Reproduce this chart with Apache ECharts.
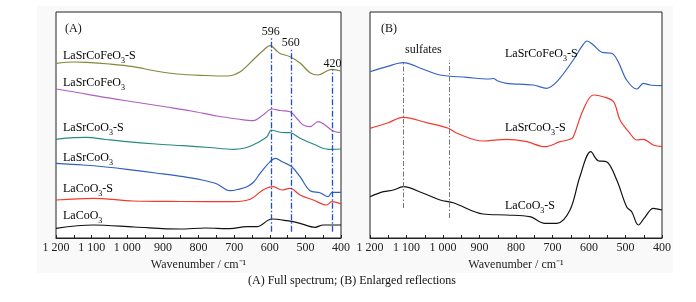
<!DOCTYPE html>
<html><head><meta charset="utf-8">
<script src="https://cdn.jsdelivr.net/npm/echarts@6/dist/echarts.min.js"></script>
<style>html,body{margin:0;padding:0;background:#fff}#c{width:696px;height:302px}</style>
</head><body><div id="c"></div>
<script>
// ---- Data (wavenumber cm-1, relative intensity a.u.) ----
// Panel A
const A_LaSrCoFeO3_S = [[1200,174.7],[1150,176],[1114,175.7],[1050,174],[983,171.3],[920,167],[861,164],[780,162.5],[720,162],[683,166.3],[647,178],[620,187],[599,192.3],[580,187],[571,184.5],[543,181.3],[515,175],[487,165.3],[464,163],[440,167],[426,168.7],[400,167]];
const A_LaSrCoFeO3 = [[1200,149],[1140,145.5],[1076,141.3],[980,136],[889,131],[820,127],[748,122],[690,119],[647,117.3],[619,123],[594,129],[570,127.5],[543,126.3],[520,118],[506,113],[487,111.3],[464,116.3],[445,113],[422,107],[400,105.3]];
const A_LaSrCoO3_S = [[1200,98.7],[1150,100.3],[1114,100.7],[1060,98.5],[1001,96.3],[920,94],[843,92.3],[770,90.5],[702,88.7],[670,90],[647,93],[608,101.3],[596,108],[585,107],[565,105.5],[543,105.3],[515,99.7],[478,94],[436,88.7],[400,89]];
const A_LaSrCoO3 = [[1200,74.7],[1124,73],[1060,71],[1001,68.7],[920,65],[843,61.3],[790,58],[748,54],[712,47.3],[690,48.5],[664,51.3],[645,56],[627,64.7],[599,76.3],[585,79.7],[562,75.7],[538,71.3],[515,61.3],[487,47.3],[459,45.3],[436,41.3],[425,45.7],[400,45.7]];
const A_LaCoO3_S = [[1200,38],[1095,39.7],[983,37],[850,36.5],[702,36.3],[655,38.7],[619,48],[590,51.3],[566,48],[543,49.7],[515,43],[478,38],[440,33],[426,36.3],[400,34]];
const A_LaCoO3 = [[1200,9.7],[1095,13],[980,11],[852,9],[780,10],[712,9.3],[664,11.3],[636,11.3],[594,19],[552,17.3],[515,14.7],[473,10.7],[450,13],[400,13]];
// Panel B
const B_LaSrCoFeO3_S = [[1200,166.3],[1154,171.3],[1109,175.3],[1054,168.7],[1008,163],[935,160.7],[875,159],[862,159.5],[850,157],[826,154.7],[753,153],[716,149.7],[688,156.3],[643,178],[620,191.3],[605,197],[588,193],[565,185.7],[538,184.7],[520,176.3],[497,158],[469,149],[451,154.7],[433,153],[400,152.3]];
const B_LaSrCoO3_S = [[1200,109.7],[1154,114.7],[1109,120.7],[1045,115.3],[985,109.7],[962,104.7],[890,97],[826,98.7],[771,96.3],[721,91.3],[679,96.3],[652,98.7],[643,101.3],[616,128],[588,143],[561,141.3],[533,136.3],[515,118],[488,104.7],[469,98],[451,98.7],[424,93],[400,91.3]];
const B_LaCoO3_S = [[1200,41.3],[1163,46.3],[1136,48],[1109,51.3],[1054,44.7],[1008,38],[972,35.3],[890,24],[826,23],[762,21.3],[721,14.7],[688,14.7],[652,28],[625,61.3],[595,86.3],[575,77.3],[552,76.3],[524,58],[497,31.3],[483,26.3],[465,13],[447,20.7],[424,29.7],[400,28]];
// Reference lines
const A_peakPositions = [597, 541, 424];
const A_peakLabels = ['596', '560', '420'];
const A_peakTops = [201.3, 189.7, 168.7];
const B_sulfatePositions = [1109, 983];
const B_sulfateRanges = [[30, 175.3], [20, 178]];
const xTicks = [1200, 1100, 1000, 900, 800, 700, 600, 500, 400];

const FONT = '"Liberation Serif","Times New Roman",serif';
const chart = echarts.init(document.getElementById('c'), null, {renderer: 'canvas'});

function fmt(v){ return v >= 1000 ? String(v).replace(/(\d)(\d{3})$/, '$1 $2') : String(v); }
function xAxis(gi){
  return {type:'value', gridIndex:gi, inverse:true, min:400, max:1200, interval:100,
    name:'Wavenumber / cm\u207B\u00B9', nameLocation:'middle', nameGap:21,
    nameTextStyle:{fontFamily:FONT, fontSize:12, color:'#222'},
    axisLine:{show:true, lineStyle:{color:'#222', width:1}},
    axisTick:{show:true, inside:true, length:3, lineStyle:{color:'#222'}},
    minorTick:{show:true, splitNumber:2, length:3, lineStyle:{color:'#222'}},
    splitLine:{show:false}, minorSplitLine:{show:false},
    axisLabel:{fontFamily:FONT, fontSize:12, color:'#222', margin:4, formatter:fmt}};
}
function yAxis(gi){
  return {type:'value', gridIndex:gi, min:0, max:226, show:true,
    axisLine:{show:false}, axisTick:{show:false}, axisLabel:{show:false}, splitLine:{show:false}};
}
function line(data, color, xi){
  return {type:'line', xAxisIndex:xi, yAxisIndex:xi, data:data, smooth:0.35, symbol:'none',
    lineStyle:{color:color, width:1.2}, silent:true, z:3};
}
const rich = {
  n:{fontFamily:FONT, fontSize:12, color:'#111', lineHeight:14, verticalAlign:'bottom'},
  s:{fontFamily:FONT, fontSize:8, color:'#111', lineHeight:14, verticalAlign:'bottom', padding:[0,0,-3,0]}
};
function label(x, y, main, sub, tail){
  let t = '{n|' + main + '}';
  if (sub) t += '{s|' + sub + '}';
  if (tail) t += '{n|' + tail + '}';
  return {type:'text', x:x, y:y, z:10, style:{text:t, rich:rich, verticalAlign:'middle', align:'left'}};
}
function plain(x, y, text, align, size){
  return {type:'text', x:x, y:y, z:10, style:{text:text, font:(size||12)+'px '+FONT, fill:'#111', align:align||'left', verticalAlign:'middle'}};
}

const peakSeries = {type:'line', xAxisIndex:0, yAxisIndex:0, data:[], symbol:'none',
  markLine:{silent:true, symbol:'none', animation:false,
    lineStyle:{color:'#1f4fd1', width:1.3, type:[6,2,1.5,2]},
    label:{show:true, position:'end', fontFamily:FONT, fontSize:12, color:'#111', distance:-1},
    data: A_peakPositions.map((p,i)=>[{coord:[p,6.3], name:A_peakLabels[i]},{coord:[p,A_peakTops[i]]}])
  }};
peakSeries.markLine.label.formatter = p => p.name;
const sulfSeries = {type:'line', xAxisIndex:1, yAxisIndex:1, data:[], symbol:'none',
  markLine:{silent:true, symbol:'none', animation:false,
    lineStyle:{color:'#777', width:1, type:[5,2,1.5,2]}, label:{show:false},
    data: B_sulfatePositions.map((p,i)=>[{coord:[p,B_sulfateRanges[i][0]]},{coord:[p,B_sulfateRanges[i][1]]}])
  }};

chart.setOption({
  animation:false,
  backgroundColor:'#fff',
  grid:[
    {left:56, top:12, width:285, height:226, show:true, borderColor:'#222', borderWidth:1, backgroundColor:'#fff'},
    {left:370, top:12, width:292, height:226, show:true, borderColor:'#222', borderWidth:1, backgroundColor:'#fff'}
  ],
  xAxis:[xAxis(0), xAxis(1)],
  yAxis:[yAxis(0), yAxis(1)],
  series:[
    line(A_LaSrCoFeO3_S, '#85873a', 0),
    line(A_LaSrCoFeO3, '#b05ec2', 0),
    line(A_LaSrCoO3_S, '#2a8a80', 0),
    line(A_LaSrCoO3, '#2f5fbd', 0),
    line(A_LaCoO3_S, '#f23a2e', 0),
    line(A_LaCoO3, '#111111', 0),
    line(B_LaSrCoFeO3_S, '#3563c4', 1),
    line(B_LaSrCoO3_S, '#f23a2e', 1),
    line(B_LaCoO3_S, '#111111', 1),
    peakSeries, sulfSeries
  ],
  graphic:[
    {type:'rect', shape:{x:37, y:6, width:636, height:267}, style:{fill:'#f9f9f9'}, z:-10, silent:true},
    plain(65, 29, '(A)'),
    label(63, 55, 'LaSrCoFeO', '3', '-S'),
    label(63, 82, 'LaSrCoFeO', '3'),
    label(63, 127, 'LaSrCoO', '3', '-S'),
    label(63, 157, 'LaSrCoO', '3'),
    label(63, 188, 'LaCoO', '3', '-S'),
    label(63, 215, 'LaCoO', '3'),
    plain(381, 29, '(B)'),
    plain(405, 50, 'sulfates'),
    label(505, 53, 'LaSrCoFeO', '3', '-S'),
    label(505, 127, 'LaSrCoO', '3', '-S'),
    label(505, 205, 'LaCoO', '3', '-S'),
    plain(352, 281, '(A) Full spectrum; (B) Enlarged reflections', 'center', 12)
  ]
});
</script></body></html>
